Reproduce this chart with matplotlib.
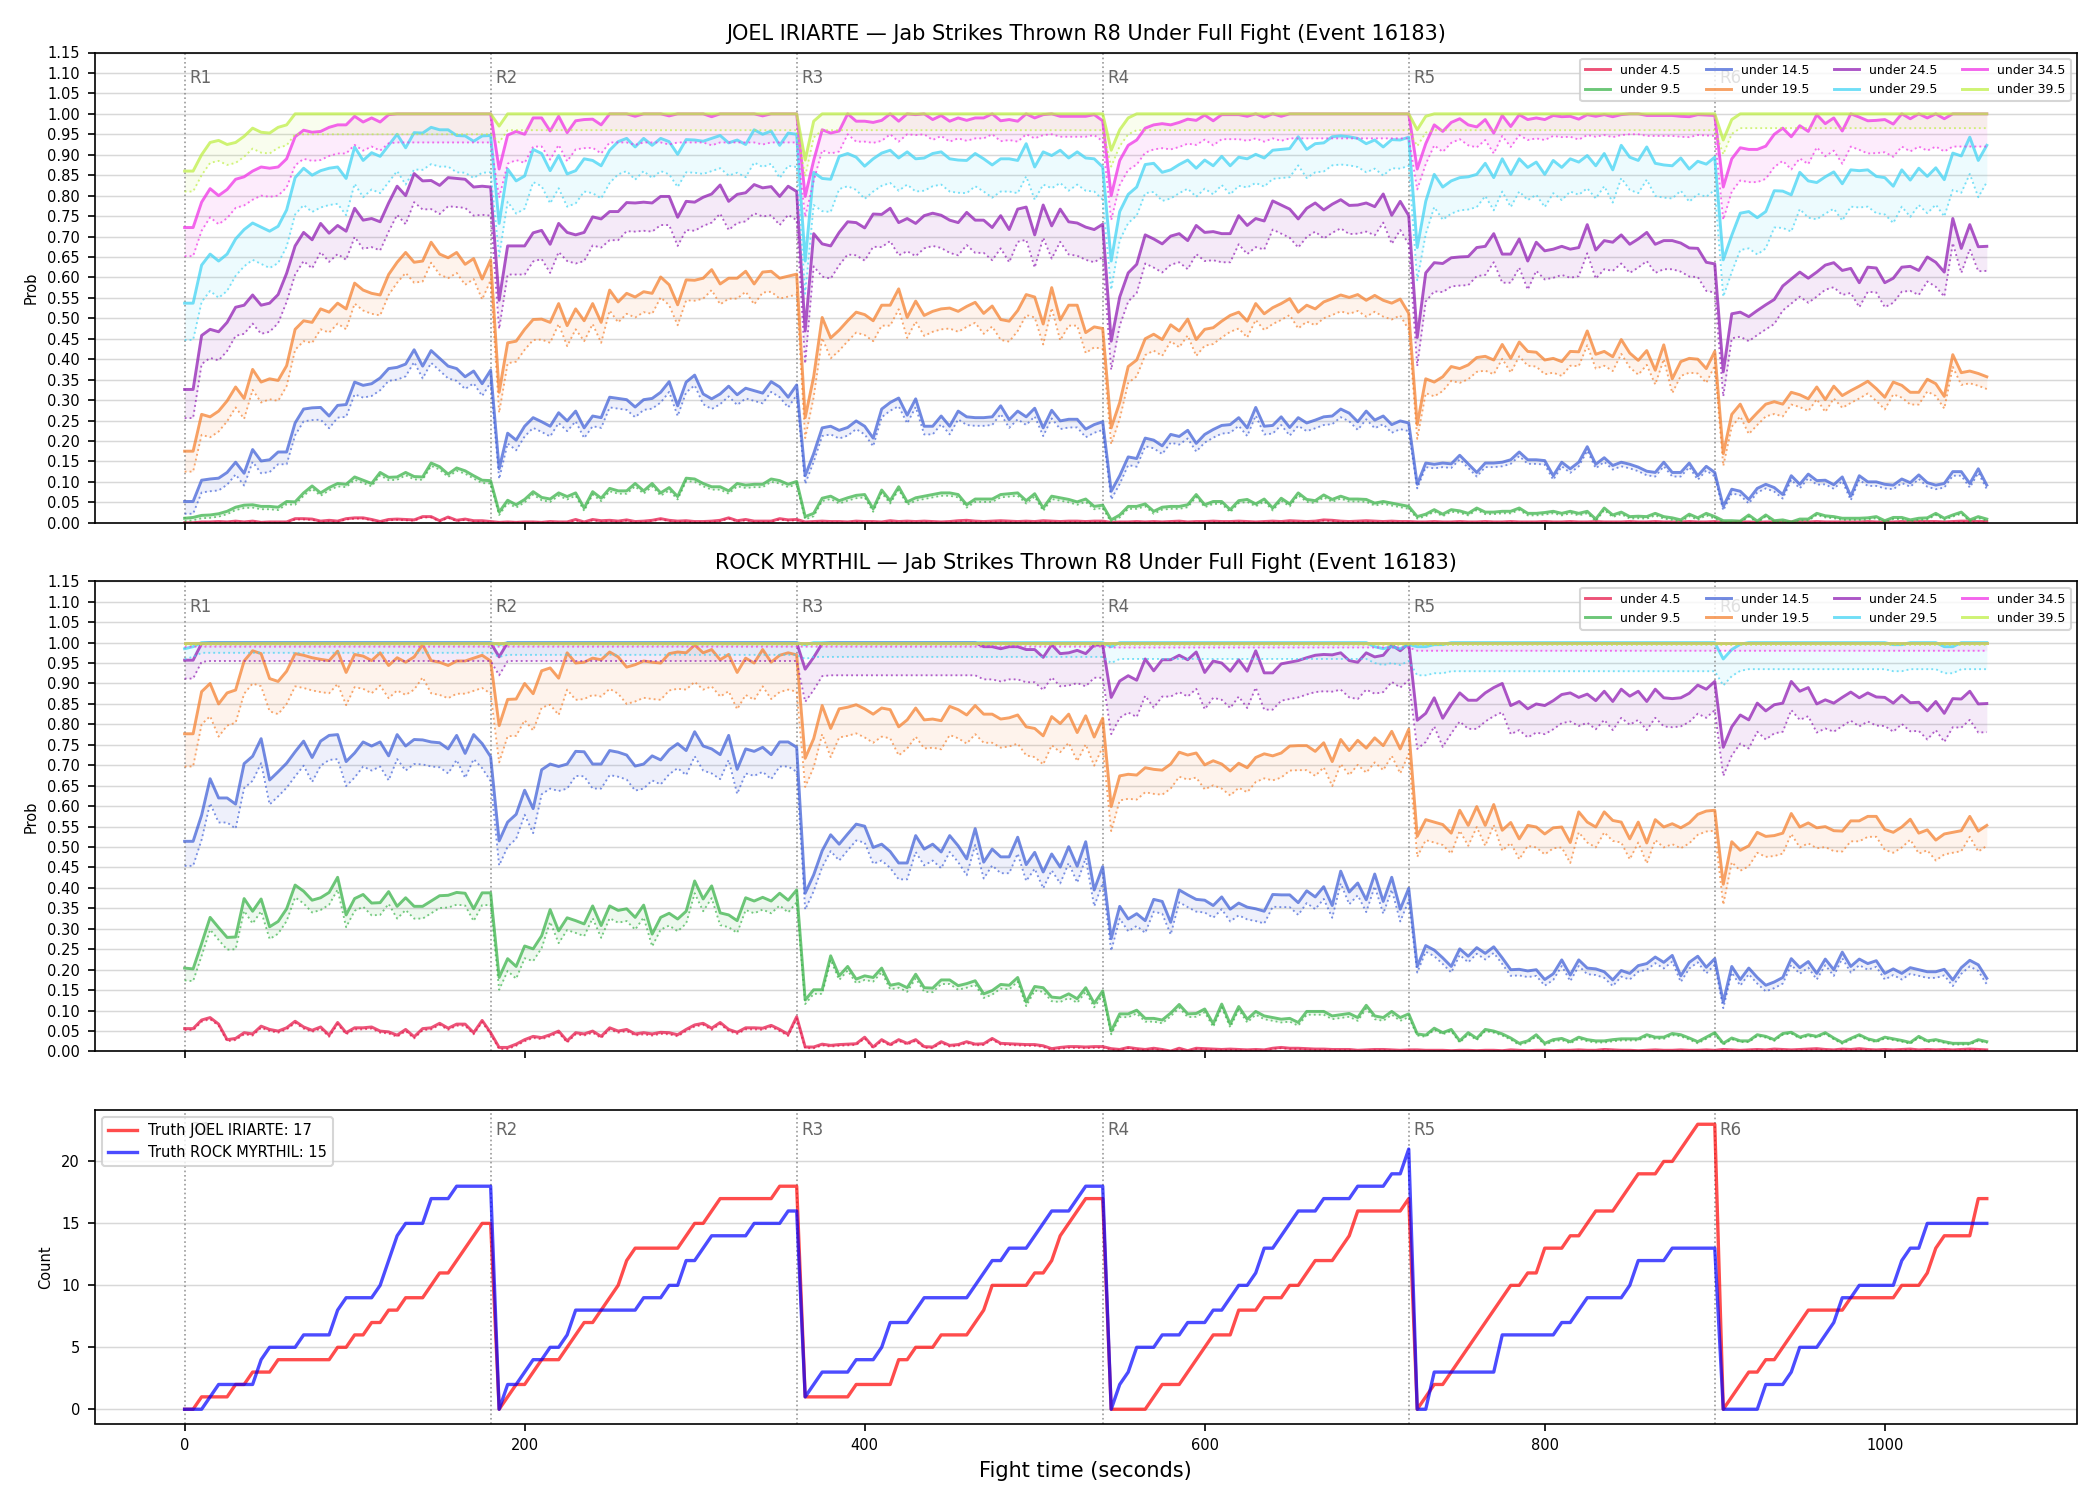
import numpy as np
import matplotlib
matplotlib.use("Agg")
import matplotlib.pyplot as plt
import matplotlib.transforms as mtrans

# ---------------- time grid (seconds) ----------------
t = np.arange(0, 1061, 5)
round_starts = [0, 180, 360, 540, 720, 900]
round_labels = ["R1", "R2", "R3", "R4", "R5", "R6"]
# index ranges of each round in the time grid
round_slices = [(0, 37), (37, 73), (73, 109), (109, 145), (145, 181), (181, 213)]

lines_names = ["under 4.5", "under 9.5", "under 14.5", "under 19.5",
               "under 24.5", "under 29.5", "under 34.5", "under 39.5"]
colors = ["#e6194b", "#3cb44b", "#4363d8", "#f58231",
          "#911eb4", "#42d4f4", "#f032e6", "#bfef45"]

# ---------------- JOEL IRIARTE ----------------
j4 = ([0.0,0.0,0.002,0.002,0.003,0.002,0.004,0.002,0.004,0.001,0.002,0.002,0.002,0.01,0.01,0.009,0.004,0.006,0.004,0.01,0.012,0.012,0.008,0.003,0.008,0.009,0.008,0.007,0.015,0.015,0.005,0.014,0.006,0.009,0.005,0.005,0.003] +
      [0.001,0.002,0.001,0.002,0.002,0.001,0.003,0.002,0.002,0.008,0.002,0.008,0.005,0.006,0.004,0.007,0.003,0.004,0.006,0.01,0.006,0.004,0.005,0.003,0.003,0.004,0.006,0.012,0.005,0.008,0.004,0.004,0.004,0.01,0.007,0.008] +
      [0.002,0.003,0.004,0.003,0.003,0.002,0.004,0.003,0.003,0.002,0.005,0.003,0.004,0.003,0.004,0.003,0.002,0.003,0.005,0.006,0.004,0.003,0.004,0.005,0.004,0.003,0.004,0.003,0.005,0.004,0.003,0.004,0.004,0.003,0.004,0.004] +
      [0.001,0.002,0.002,0.003,0.002,0.003,0.002,0.003,0.004,0.002,0.003,0.003,0.004,0.003,0.003,0.004,0.003,0.002,0.003,0.004,0.003,0.005,0.004,0.003,0.004,0.007,0.006,0.004,0.003,0.004,0.005,0.004,0.003,0.004,0.003,0.003] +
      [0.002,0.002,0.003,0.002,0.002,0.003,0.002,0.002,0.003,0.002,0.002,0.003,0.002,0.002,0.002,0.003,0.002,0.002,0.003,0.002,0.002,0.003,0.002,0.002,0.002,0.003,0.002,0.002,0.003,0.002,0.002,0.002,0.003,0.002,0.002,0.003] +
      [0.001,0.001,0.002,0.002,0.001,0.002,0.002,0.001,0.002,0.002,0.002,0.003,0.002,0.002,0.002,0.002,0.002,0.003,0.002,0.002,0.002,0.003,0.002,0.003,0.003,0.003,0.002,0.003,0.004,0.004,0.003,0.003])
j9 = ([0.011,0.013,0.018,0.019,0.022,0.028,0.038,0.043,0.044,0.04,0.04,0.038,0.052,0.051,0.073,0.09,0.073,0.086,0.096,0.094,0.112,0.104,0.096,0.123,0.111,0.112,0.123,0.113,0.112,0.146,0.137,0.119,0.134,0.127,0.115,0.104,0.103] +
      [0.026,0.055,0.044,0.057,0.076,0.062,0.058,0.073,0.064,0.073,0.036,0.076,0.06,0.084,0.078,0.078,0.096,0.078,0.096,0.073,0.086,0.064,0.109,0.107,0.096,0.088,0.088,0.078,0.096,0.092,0.094,0.094,0.107,0.103,0.094,0.101] +
      [0.015,0.023,0.06,0.065,0.054,0.061,0.067,0.069,0.034,0.08,0.054,0.088,0.051,0.061,0.065,0.069,0.073,0.073,0.069,0.044,0.058,0.058,0.058,0.069,0.071,0.073,0.054,0.071,0.036,0.065,0.061,0.057,0.051,0.058,0.04,0.043] +
      [0.007,0.019,0.04,0.04,0.046,0.028,0.038,0.04,0.04,0.044,0.069,0.044,0.052,0.052,0.032,0.054,0.057,0.046,0.058,0.036,0.06,0.046,0.073,0.057,0.054,0.068,0.057,0.065,0.058,0.058,0.057,0.048,0.052,0.048,0.044,0.04] +
      [0.015,0.021,0.032,0.021,0.032,0.029,0.023,0.036,0.026,0.026,0.028,0.028,0.036,0.023,0.023,0.025,0.028,0.023,0.028,0.023,0.028,0.009,0.036,0.019,0.026,0.015,0.016,0.015,0.023,0.015,0.012,0.007,0.021,0.012,0.023,0.015] +
      [0.005,0.005,0.004,0.019,0.004,0.019,0.005,0.007,0.002,0.009,0.009,0.023,0.017,0.015,0.011,0.011,0.011,0.012,0.015,0.005,0.013,0.013,0.007,0.011,0.012,0.023,0.011,0.019,0.026,0.007,0.015,0.009])
j14 = ([0.052,0.052,0.104,0.107,0.109,0.123,0.148,0.121,0.179,0.151,0.154,0.173,0.173,0.244,0.278,0.281,0.282,0.261,0.287,0.289,0.344,0.336,0.34,0.354,0.377,0.38,0.388,0.423,0.383,0.421,0.402,0.383,0.377,0.357,0.371,0.34,0.373] +
       [0.132,0.219,0.202,0.236,0.257,0.247,0.236,0.269,0.249,0.273,0.232,0.261,0.257,0.307,0.304,0.301,0.283,0.301,0.304,0.319,0.345,0.286,0.344,0.361,0.315,0.303,0.315,0.334,0.313,0.329,0.323,0.317,0.345,0.332,0.307,0.337] +
       [0.115,0.169,0.232,0.236,0.226,0.233,0.249,0.236,0.207,0.278,0.294,0.305,0.263,0.303,0.236,0.236,0.261,0.236,0.273,0.259,0.257,0.257,0.259,0.286,0.252,0.273,0.259,0.28,0.232,0.275,0.249,0.253,0.253,0.229,0.24,0.247] +
       [0.077,0.115,0.161,0.157,0.207,0.202,0.188,0.216,0.211,0.226,0.194,0.216,0.228,0.238,0.24,0.257,0.232,0.282,0.236,0.238,0.259,0.233,0.257,0.244,0.251,0.259,0.261,0.278,0.268,0.247,0.273,0.251,0.261,0.24,0.249,0.244] +
       [0.094,0.146,0.143,0.146,0.144,0.165,0.144,0.123,0.146,0.146,0.148,0.154,0.173,0.154,0.154,0.152,0.115,0.148,0.132,0.148,0.186,0.143,0.159,0.14,0.148,0.143,0.136,0.126,0.123,0.148,0.123,0.123,0.146,0.115,0.138,0.123] +
       [0.04,0.082,0.077,0.057,0.084,0.094,0.086,0.069,0.115,0.094,0.119,0.103,0.104,0.093,0.112,0.065,0.115,0.10,0.10,0.094,0.092,0.107,0.098,0.117,0.098,0.092,0.096,0.125,0.125,0.096,0.132,0.092])
j19 = ([0.175,0.175,0.265,0.259,0.273,0.298,0.332,0.304,0.375,0.344,0.352,0.348,0.384,0.473,0.494,0.49,0.523,0.515,0.537,0.523,0.586,0.569,0.561,0.557,0.607,0.637,0.661,0.637,0.64,0.686,0.657,0.648,0.661,0.632,0.646,0.596,0.643] +
       [0.319,0.44,0.444,0.473,0.497,0.498,0.49,0.536,0.482,0.523,0.494,0.536,0.49,0.569,0.54,0.561,0.552,0.565,0.561,0.601,0.582,0.533,0.594,0.593,0.598,0.619,0.584,0.598,0.598,0.615,0.584,0.613,0.615,0.598,0.603,0.608] +
       [0.257,0.357,0.502,0.452,0.471,0.494,0.515,0.509,0.494,0.532,0.532,0.572,0.502,0.542,0.507,0.517,0.523,0.525,0.517,0.529,0.539,0.512,0.53,0.497,0.493,0.519,0.558,0.552,0.486,0.575,0.496,0.532,0.532,0.465,0.479,0.475] +
       [0.232,0.294,0.382,0.398,0.45,0.461,0.448,0.484,0.469,0.498,0.448,0.473,0.477,0.493,0.507,0.515,0.493,0.536,0.511,0.526,0.536,0.548,0.515,0.532,0.523,0.54,0.548,0.557,0.551,0.558,0.544,0.556,0.544,0.537,0.547,0.512] +
       [0.24,0.352,0.344,0.357,0.382,0.377,0.386,0.404,0.407,0.398,0.436,0.402,0.442,0.419,0.417,0.398,0.402,0.394,0.419,0.418,0.469,0.412,0.419,0.406,0.448,0.415,0.397,0.421,0.373,0.435,0.352,0.394,0.402,0.40,0.377,0.419] +
       [0.169,0.265,0.29,0.247,0.269,0.29,0.296,0.29,0.319,0.313,0.303,0.332,0.301,0.334,0.311,0.323,0.334,0.346,0.328,0.307,0.344,0.336,0.319,0.319,0.351,0.34,0.309,0.411,0.367,0.371,0.365,0.357])
j24 = ([0.326,0.326,0.458,0.473,0.467,0.49,0.527,0.532,0.557,0.532,0.537,0.558,0.61,0.677,0.71,0.692,0.732,0.708,0.727,0.713,0.769,0.74,0.744,0.736,0.782,0.823,0.80,0.854,0.836,0.837,0.825,0.844,0.842,0.84,0.821,0.823,0.821] +
       [0.544,0.677,0.677,0.677,0.709,0.715,0.681,0.732,0.71,0.704,0.71,0.748,0.743,0.761,0.761,0.783,0.782,0.784,0.782,0.798,0.798,0.747,0.786,0.784,0.796,0.804,0.826,0.786,0.803,0.807,0.827,0.819,0.822,0.798,0.823,0.81] +
       [0.469,0.707,0.682,0.677,0.71,0.736,0.734,0.721,0.755,0.754,0.769,0.734,0.744,0.732,0.751,0.757,0.752,0.74,0.734,0.759,0.74,0.74,0.722,0.751,0.717,0.767,0.772,0.704,0.777,0.726,0.767,0.736,0.733,0.723,0.717,0.73] +
       [0.444,0.552,0.611,0.632,0.704,0.694,0.682,0.701,0.707,0.69,0.727,0.71,0.712,0.707,0.707,0.751,0.727,0.744,0.738,0.787,0.777,0.767,0.743,0.769,0.782,0.765,0.779,0.79,0.776,0.777,0.782,0.773,0.804,0.752,0.786,0.751] +
       [0.453,0.611,0.636,0.634,0.648,0.65,0.651,0.673,0.676,0.707,0.657,0.657,0.694,0.64,0.686,0.665,0.669,0.676,0.669,0.673,0.729,0.667,0.69,0.686,0.704,0.681,0.694,0.71,0.681,0.69,0.69,0.684,0.672,0.671,0.637,0.633] +
       [0.369,0.511,0.515,0.504,0.519,0.533,0.546,0.579,0.596,0.613,0.598,0.613,0.63,0.636,0.617,0.622,0.587,0.625,0.623,0.587,0.598,0.625,0.627,0.617,0.65,0.637,0.613,0.744,0.671,0.729,0.675,0.676])
j29 = ([0.537,0.537,0.63,0.657,0.64,0.657,0.694,0.717,0.733,0.723,0.713,0.725,0.765,0.844,0.867,0.85,0.861,0.867,0.87,0.842,0.919,0.886,0.905,0.896,0.923,0.95,0.917,0.954,0.953,0.967,0.961,0.961,0.947,0.946,0.933,0.946,0.947] +
       [0.732,0.865,0.836,0.848,0.913,0.903,0.861,0.898,0.853,0.861,0.89,0.886,0.873,0.911,0.932,0.94,0.919,0.94,0.923,0.94,0.932,0.901,0.937,0.936,0.933,0.94,0.947,0.929,0.936,0.925,0.961,0.95,0.958,0.923,0.953,0.95] +
       [0.64,0.857,0.842,0.84,0.896,0.903,0.894,0.872,0.89,0.904,0.911,0.892,0.907,0.89,0.892,0.903,0.907,0.89,0.887,0.886,0.903,0.89,0.875,0.89,0.89,0.886,0.927,0.87,0.907,0.898,0.911,0.892,0.907,0.892,0.89,0.87] +
       [0.64,0.761,0.803,0.821,0.876,0.879,0.857,0.863,0.876,0.887,0.867,0.887,0.873,0.896,0.873,0.894,0.89,0.901,0.892,0.911,0.913,0.915,0.944,0.913,0.927,0.929,0.944,0.946,0.944,0.94,0.927,0.936,0.919,0.937,0.936,0.943] +
       [0.673,0.786,0.852,0.821,0.836,0.844,0.846,0.852,0.879,0.844,0.89,0.852,0.89,0.869,0.882,0.852,0.886,0.869,0.89,0.882,0.898,0.873,0.903,0.863,0.923,0.894,0.886,0.919,0.879,0.875,0.873,0.892,0.865,0.884,0.877,0.894] +
       [0.643,0.703,0.757,0.761,0.746,0.761,0.812,0.811,0.802,0.857,0.836,0.832,0.846,0.858,0.829,0.863,0.861,0.863,0.847,0.844,0.823,0.863,0.838,0.867,0.847,0.868,0.839,0.904,0.897,0.943,0.886,0.923])
j34 = ([0.722,0.722,0.784,0.817,0.80,0.815,0.84,0.846,0.86,0.87,0.867,0.87,0.89,0.944,0.96,0.955,0.957,0.967,0.973,0.973,0.994,0.98,0.99,0.98,0.998] + [1.0] * 12 +
       [0.865,0.948,0.957,0.95,0.99,0.99,0.958,0.994,0.954,0.983,0.986,0.987,0.973,1.0,1.0,1.0,0.994,1.0,1.0,1.0,0.995,1.0,1.0,1.0,1.0,0.993,1.0,1.0,1.0,1.0,1.0,0.995,1.0,1.0,1.0,1.0] +
       [0.798,0.886,0.961,0.953,0.958,1.0,0.982,0.982,0.979,0.984,1.0,0.982,1.0,0.998,1.0,0.986,0.996,0.982,0.99,0.984,0.99,0.99,1.0,0.983,0.986,0.982,1.0,0.99,0.998,1.0,0.994,0.994,0.994,0.994,0.998,0.983] +
       [0.80,0.886,0.923,0.936,0.965,0.973,0.976,0.973,0.979,0.987,0.984,0.997,0.983,0.998,0.998,0.998,0.994,1.0,0.992,1.0,0.994,1.0] + [1.0] * 14 +
       [0.865,0.927,0.973,0.957,0.979,0.988,0.973,0.968,0.986,0.953,0.996,0.969,0.998,0.986,0.99,0.986,0.996,0.993,0.994,0.987,0.998,0.994,0.998,0.993,0.998,1.0,1.0,0.996,0.996,0.996,0.996,0.994,0.993,0.998,0.997,0.996] +
       [0.821,0.89,0.917,0.913,0.913,0.921,0.95,0.965,0.944,0.971,0.957,0.998,0.976,0.99,0.958,1.0,0.992,0.983,0.984,0.986,0.975,1.0,0.988,1.0,0.99,1.0,0.988,1.0,1.0,1.0,1.0,1.0])
j39 = ([0.86,0.86,0.90,0.93,0.935,0.925,0.93,0.945,0.965,0.955,0.953,0.967,0.973] + [1.0] * 24 +
       [0.97] + [1.0] * 35 +
       [0.887,0.982] + [1.0] * 34 +
       [0.911,0.961,0.99] + [1.0] * 33 +
       [0.961,0.994] + [1.0] * 34 +
       [0.936,0.986] + [1.0] * 30)

# width of the dotted lower band below each solid line, per round (R1..R6)
joel_gap = {
    "under 4.5":  [0.002, 0.002, 0.002, 0.002, 0.002, 0.002],
    "under 9.5":  [0.007, 0.007, 0.007, 0.006, 0.005, 0.004],
    "under 14.5": [0.03, 0.025, 0.02, 0.02, 0.01, 0.01],
    "under 19.5": [0.05, 0.05, 0.05, 0.04, 0.035, 0.03],
    "under 24.5": [0.07, 0.07, 0.08, 0.07, 0.07, 0.06],
    "under 29.5": [0.09, 0.08, 0.08, 0.07, 0.08, 0.09],
    "under 34.5": [0.07, 0.07, 0.05, 0.06, 0.05, 0.08],
    "under 39.5": [0.05, 0.04, 0.04, 0.04, 0.04, 0.035],
}

# ---------------- ROCK MYRTHIL ----------------
r4 = ([0.056,0.056,0.077,0.083,0.067,0.029,0.032,0.046,0.043,0.062,0.054,0.05,0.058,0.074,0.06,0.052,0.06,0.04,0.071,0.046,0.058,0.058,0.06,0.05,0.048,0.04,0.054,0.036,0.056,0.058,0.069,0.057,0.067,0.067,0.046,0.076,0.046] +
      [0.01,0.01,0.018,0.029,0.037,0.034,0.041,0.05,0.026,0.046,0.043,0.05,0.037,0.058,0.05,0.054,0.043,0.046,0.043,0.047,0.046,0.041,0.054,0.065,0.069,0.057,0.071,0.054,0.047,0.058,0.058,0.057,0.064,0.054,0.042,0.085] +
      [0.011,0.011,0.018,0.015,0.017,0.018,0.019,0.035,0.011,0.029,0.017,0.029,0.02,0.029,0.012,0.011,0.024,0.015,0.017,0.024,0.018,0.019,0.032,0.02,0.019,0.018,0.017,0.017,0.014,0.007,0.01,0.012,0.012,0.011,0.012,0.012] +
      [0.007,0.005,0.01,0.007,0.005,0.008,0.005,0.001,0.008,0.002,0.008,0.007,0.006,0.005,0.006,0.005,0.004,0.005,0.004,0.008,0.01,0.008,0.008,0.007,0.006,0.006,0.005,0.005,0.005,0.003,0.004,0.005,0.005,0.004,0.003,0.004] +
      [0.004,0.003,0.003,0.003,0.002,0.003,0.003,0.002,0.003,0.003,0.002,0.004,0.003,0.002,0.003,0.003,0.002,0.003,0.003,0.004,0.003,0.003,0.005,0.004,0.003,0.003,0.002,0.003,0.004,0.003,0.003,0.004,0.003,0.003,0.004,0.003] +
      [0.005,0.004,0.003,0.004,0.005,0.004,0.006,0.005,0.004,0.005,0.006,0.007,0.005,0.004,0.006,0.005,0.007,0.005,0.004,0.005,0.004,0.005,0.006,0.004,0.005,0.004,0.005,0.004,0.005,0.006,0.005,0.004])
r9 = ([0.204,0.202,0.264,0.328,0.303,0.279,0.28,0.374,0.343,0.373,0.305,0.318,0.349,0.407,0.392,0.37,0.376,0.389,0.426,0.334,0.374,0.384,0.363,0.364,0.391,0.355,0.376,0.355,0.355,0.368,0.381,0.382,0.389,0.387,0.349,0.388,0.388] +
      [0.181,0.227,0.208,0.258,0.251,0.283,0.347,0.295,0.327,0.32,0.312,0.356,0.308,0.356,0.345,0.349,0.328,0.358,0.287,0.328,0.338,0.324,0.343,0.417,0.373,0.405,0.339,0.334,0.32,0.376,0.368,0.377,0.368,0.387,0.37,0.395] +
      [0.126,0.151,0.151,0.234,0.185,0.208,0.177,0.185,0.181,0.204,0.162,0.166,0.156,0.189,0.156,0.155,0.175,0.175,0.161,0.166,0.173,0.141,0.149,0.164,0.162,0.181,0.121,0.159,0.156,0.133,0.131,0.141,0.129,0.156,0.118,0.148] +
      [0.05,0.092,0.092,0.101,0.081,0.081,0.077,0.094,0.115,0.092,0.093,0.104,0.068,0.116,0.067,0.11,0.079,0.098,0.087,0.083,0.079,0.081,0.071,0.098,0.098,0.098,0.087,0.09,0.093,0.083,0.113,0.087,0.083,0.098,0.083,0.092] +
      [0.043,0.04,0.057,0.046,0.054,0.026,0.046,0.032,0.054,0.05,0.043,0.033,0.02,0.026,0.041,0.02,0.029,0.032,0.024,0.035,0.029,0.026,0.026,0.029,0.031,0.031,0.031,0.041,0.035,0.035,0.044,0.041,0.033,0.024,0.035,0.046] +
      [0.02,0.033,0.026,0.026,0.041,0.037,0.029,0.044,0.047,0.035,0.041,0.037,0.046,0.033,0.022,0.032,0.041,0.031,0.026,0.035,0.031,0.027,0.022,0.037,0.026,0.029,0.024,0.02,0.02,0.02,0.029,0.024])
r14 = ([0.514,0.514,0.578,0.667,0.62,0.62,0.605,0.704,0.722,0.765,0.664,0.684,0.705,0.733,0.759,0.719,0.759,0.773,0.775,0.709,0.73,0.757,0.747,0.757,0.723,0.775,0.747,0.763,0.762,0.757,0.755,0.74,0.773,0.729,0.775,0.753,0.721] +
       [0.515,0.561,0.58,0.639,0.594,0.689,0.703,0.697,0.703,0.734,0.733,0.703,0.703,0.736,0.732,0.725,0.698,0.703,0.723,0.713,0.738,0.753,0.736,0.782,0.747,0.74,0.726,0.773,0.69,0.74,0.734,0.744,0.726,0.757,0.757,0.744] +
       [0.387,0.432,0.491,0.53,0.507,0.532,0.556,0.551,0.499,0.507,0.489,0.461,0.461,0.528,0.495,0.507,0.488,0.528,0.503,0.471,0.545,0.463,0.495,0.476,0.476,0.524,0.457,0.487,0.439,0.483,0.451,0.501,0.453,0.513,0.395,0.452] +
       [0.276,0.355,0.324,0.337,0.32,0.372,0.367,0.316,0.395,0.383,0.372,0.37,0.357,0.378,0.348,0.363,0.353,0.349,0.343,0.384,0.383,0.383,0.364,0.393,0.378,0.403,0.357,0.441,0.39,0.412,0.371,0.434,0.367,0.426,0.348,0.399] +
       [0.208,0.259,0.248,0.229,0.208,0.251,0.233,0.254,0.24,0.256,0.229,0.20,0.201,0.197,0.20,0.176,0.19,0.224,0.187,0.224,0.204,0.202,0.195,0.175,0.198,0.191,0.21,0.215,0.231,0.218,0.235,0.185,0.218,0.233,0.206,0.227] +
       [0.121,0.208,0.176,0.204,0.181,0.162,0.17,0.181,0.227,0.205,0.22,0.191,0.226,0.20,0.243,0.208,0.226,0.215,0.222,0.191,0.202,0.191,0.205,0.20,0.195,0.195,0.201,0.175,0.205,0.223,0.212,0.179])
r19 = ([0.777,0.777,0.88,0.90,0.85,0.877,0.884,0.955,0.98,0.973,0.912,0.905,0.93,0.973,0.969,0.963,0.959,0.956,0.979,0.927,0.971,0.967,0.956,0.975,0.944,0.963,0.952,0.965,0.995,0.956,0.952,0.944,0.955,0.955,0.962,0.969,0.955] +
       [0.797,0.861,0.862,0.90,0.875,0.931,0.938,0.913,0.975,0.95,0.952,0.962,0.958,0.977,0.965,0.94,0.946,0.955,0.952,0.95,0.973,0.977,0.975,0.994,0.975,0.983,0.958,0.971,0.927,0.962,0.95,0.983,0.952,0.969,0.975,0.97] +
       [0.717,0.765,0.846,0.79,0.838,0.842,0.848,0.838,0.825,0.84,0.836,0.794,0.811,0.84,0.811,0.813,0.809,0.844,0.836,0.823,0.846,0.825,0.825,0.813,0.816,0.823,0.794,0.79,0.772,0.819,0.802,0.825,0.78,0.821,0.769,0.815] +
       [0.599,0.674,0.678,0.676,0.694,0.69,0.688,0.703,0.732,0.725,0.73,0.701,0.711,0.703,0.686,0.705,0.694,0.719,0.728,0.723,0.73,0.747,0.748,0.748,0.734,0.755,0.709,0.763,0.736,0.761,0.742,0.767,0.748,0.783,0.74,0.788] +
       [0.526,0.567,0.561,0.555,0.534,0.59,0.553,0.599,0.553,0.604,0.541,0.56,0.52,0.553,0.549,0.532,0.547,0.549,0.511,0.586,0.561,0.549,0.586,0.565,0.561,0.52,0.561,0.51,0.567,0.549,0.557,0.547,0.559,0.58,0.588,0.59] +
       [0.409,0.513,0.492,0.503,0.536,0.526,0.528,0.534,0.582,0.549,0.559,0.547,0.55,0.54,0.539,0.564,0.564,0.575,0.575,0.543,0.536,0.549,0.568,0.534,0.542,0.517,0.532,0.536,0.54,0.575,0.539,0.553])
r24 = ([0.957,0.957,0.998] + [1.0] * 34 +
       [0.965] + [1.0] * 35 +
       [0.935,0.964,0.998] + [1.0] * 18 + [0.99,0.99,0.985,0.99,0.99,0.983,0.983,0.964,0.995,0.973,0.975,0.981,0.973,0.994,0.994] +
       [0.866,0.906,0.919,0.908,0.96,0.931,0.958,0.958,0.969,0.958,0.977,0.927,0.955,0.95,0.93,0.958,0.93,0.98,0.926,0.926,0.948,0.952,0.956,0.963,0.969,0.971,0.97,0.975,0.956,0.952,0.975,0.965,0.969,0.994,0.98,0.998] +
       [0.81,0.827,0.865,0.815,0.848,0.877,0.859,0.859,0.877,0.89,0.90,0.846,0.856,0.838,0.85,0.846,0.858,0.873,0.877,0.866,0.874,0.858,0.881,0.856,0.886,0.869,0.881,0.856,0.886,0.865,0.863,0.865,0.876,0.896,0.886,0.905] +
       [0.744,0.794,0.823,0.811,0.852,0.833,0.848,0.852,0.905,0.881,0.89,0.85,0.86,0.852,0.866,0.879,0.865,0.877,0.867,0.866,0.852,0.871,0.853,0.854,0.833,0.856,0.827,0.863,0.862,0.881,0.85,0.851])
r29 = ([0.985,0.99] + [1.0] * 35 +
       [0.995] + [1.0] * 35 +
       [0.995] + [1.0] * 35 +
       [0.99] + [1.0] * 30 + [0.99,0.985,0.99,0.985,0.995] +
       [0.99,0.99,0.995,0.995] + [1.0] * 32 +
       [0.96,0.983,0.996] + [1.0] * 17 + [0.995,0.995] + [1.0] * 4 + [0.99,0.99] + [1.0] * 4)
r34 = [1.0] * 213
r39 = [1.0] * 213

rock_gap = {
    "under 4.5":  [0.004, 0.004, 0.003, 0.002, 0.002, 0.002],
    "under 9.5":  [0.03, 0.03, 0.01, 0.008, 0.004, 0.003],
    "under 14.5": [0.06, 0.06, 0.04, 0.03, 0.015, 0.015],
    "under 19.5": [0.08, 0.09, 0.07, 0.06, 0.05, 0.05],
    "under 24.5": [0.045, 0.045, 0.08, 0.09, 0.07, 0.07],
    "under 29.5": [0.025, 0.03, 0.035, 0.04, 0.07, 0.065],
    "under 34.5": [0.01, 0.01, 0.01, 0.012, 0.02, 0.02],
    "under 39.5": [0.005, 0.005, 0.005, 0.005, 0.005, 0.005],
}

# ---------------- truth counts ----------------
joel_count = ([0,0,1,1,1,1,2,2,3,3,3,4,4,4,4,4,4,4,5,5,6,6,7,7,8,8,9,9,9,10,11,11,12,13,14,15,15] +
              [0,1,2,2,3,4,4,4,5,6,7,7,8,9,10,12,13,13,13,13,13,13,14,15,15,16,17,17,17,17,17,17,17,18,18,18] +
              [1,1,1,1,1,1,2,2,2,2,2,4,4,5,5,5,6,6,6,6,7,8,10,10,10,10,10,11,11,12,14,15,16,17,17,17] +
              [0,0,0,0,0,1,2,2,2,3,4,5,6,6,6,8,8,8,9,9,9,10,10,11,12,12,12,13,14,16,16,16,16,16,16,17] +
              [0,1,2,2,3,4,5,6,7,8,9,10,10,11,11,13,13,13,14,14,15,16,16,16,17,18,19,19,19,20,20,21,22,23,23,23] +
              [0,1,2,3,3,4,4,5,6,7,8,8,8,8,8,9,9,9,9,9,9,10,10,10,11,13,14,14,14,14,17,17])
rock_count = ([0,0,0,1,2,2,2,2,2,4,5,5,5,5,6,6,6,6,8,9,9,9,9,10,12,14,15,15,15,17,17,17,18,18,18,18,18] +
              [0,2,2,3,4,4,5,5,6,8,8,8,8,8,8,8,8,9,9,9,10,10,12,12,13,14,14,14,14,14,15,15,15,15,16,16] +
              [1,2,3,3,3,3,4,4,4,5,7,7,7,8,9,9,9,9,9,9,10,11,12,12,13,13,13,14,15,16,16,16,17,18,18,18] +
              [0,2,3,5,5,5,6,6,6,7,7,7,8,8,9,10,10,11,13,13,14,15,16,16,16,17,17,17,17,18,18,18,18,19,19,21] +
              [0,0,3,3,3,3,3,3,3,3,6,6,6,6,6,6,6,7,7,8,9,9,9,9,9,10,12,12,12,12,13,13,13,13,13,13] +
              [0,0,0,0,0,2,2,2,3,5,5,5,6,7,9,9,10,10,10,10,10,12,13,13,15,15,15,15,15,15,15,15])

joel_series = [j4, j9, j14, j19, j24, j29, j34, j39]
rock_series = [r4, r9, r14, r19, r24, r29, r34, r39]

# ---------------- figure ----------------
fig = plt.figure(figsize=(14, 10), dpi=150)
gs = fig.add_gridspec(3, 1, height_ratios=[3, 3, 2], left=0.045, right=0.989,
                      top=0.965, bottom=0.051, hspace=0.14)
ax1 = fig.add_subplot(gs[0])
ax2 = fig.add_subplot(gs[1], sharex=ax1)
ax3 = fig.add_subplot(gs[2], sharex=ax1)


def gap_array(gaps):
    g = np.zeros(len(t))
    for (a, b), v in zip(round_slices, gaps):
        g[a:b] = v
    return g


def prob_panel(ax, series, gaps, title):
    for name, col, vals in zip(lines_names, colors, series):
        v = np.asarray(vals, dtype=float)
        lo = np.clip(v - gap_array(gaps[name]), 0, None)
        ax.fill_between(t, lo, v, color=col, alpha=0.09, lw=0)
        ax.plot(t, lo, ls=":", color=col, lw=0.9, alpha=0.7)
        ax.plot(t, v, ls="-", color=col, lw=1.4, alpha=0.75, label=name)
    ax.set_ylim(0, 1.15)
    ax.set_yticks(np.round(np.arange(0, 1.151, 0.05), 2))
    ax.yaxis.set_major_formatter(matplotlib.ticker.FormatStrFormatter("%.2f"))
    ax.set_ylabel("Prob", fontsize=7)
    ax.set_title(title, fontsize=10)
    ax.grid(True, axis="y", color="#d8d8d8", lw=0.7)
    ax.set_axisbelow(True)
    ax.legend(loc="upper right", ncol=4, fontsize=6, framealpha=0.8)
    ax.tick_params(labelsize=7, labelbottom=False)


prob_panel(ax1, joel_series, joel_gap,
           "JOEL IRIARTE \u2014 Jab Strikes Thrown R8 Under Full Fight (Event 16183)")
prob_panel(ax2, rock_series, rock_gap,
           "ROCK MYRTHIL \u2014 Jab Strikes Thrown R8 Under Full Fight (Event 16183)")

ax3.plot(t, joel_count, color="red", alpha=0.7, lw=1.6,
         label=f"Truth JOEL IRIARTE: {joel_count[-1]}")
ax3.plot(t, rock_count, color="blue", alpha=0.7, lw=1.6,
         label=f"Truth ROCK MYRTHIL: {rock_count[-1]}")
ax3.set_ylabel("Count", fontsize=7)
ax3.set_xlabel("Fight time (seconds)", fontsize=10)
ax3.grid(True, axis="y", color="#d8d8d8", lw=0.7)
ax3.set_axisbelow(True)
ax3.set_yticks([0, 5, 10, 15, 20])
ax3.tick_params(labelsize=7)
ax3.legend(loc="upper left", fontsize=7, framealpha=0.8)

for ax in (ax1, ax2, ax3):
    trans = mtrans.blended_transform_factory(ax.transData, ax.transAxes)
    for rs, lab in zip(round_starts, round_labels):
        ax.axvline(rs, color="gray", ls=":", lw=0.8, alpha=0.8, zorder=1)
        ax.text(rs + 3, 0.965, lab, transform=trans, fontsize=8, color="#666666",
                va="top", ha="left", zorder=2)

ax1.set_xlim(-53, 1113)
ax3.set_xticks([0, 200, 400, 600, 800, 1000])

fig.savefig("out.png", dpi=150)
